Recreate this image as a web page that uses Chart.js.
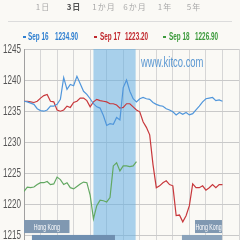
<!DOCTYPE html>
<html><head><meta charset="utf-8">
<script src="https://cdn.jsdelivr.net/npm/chart.js@4"></script>
<style>
html,body{margin:0;padding:0;background:#faf9f5;width:240px;height:240px;overflow:hidden;}
#wrap{position:relative;width:240px;height:240px;overflow:hidden;}
canvas{position:absolute;left:0;top:0;}
.tab{position:absolute;top:3px;font:8px/8px "Noto Sans CJK JP";letter-spacing:1px;color:#a9a9a9;transform:translateX(-50%);white-space:nowrap;}
.tab.on{color:#555;font-weight:bold;}
.sep{position:absolute;left:8px;top:21px;width:224px;height:1px;background:#dcdcdc;}
.dash{position:absolute;top:36px;width:3px;height:2px;}
.lt{position:absolute;top:30.5px;font:bold 11px/11px "Liberation Sans",Arial,sans-serif;transform:scaleX(0.58);transform-origin:0 0;white-space:nowrap;}
.wm{position:absolute;left:141px;top:54px;font:15px/15px "Liberation Sans",Arial,sans-serif;color:#5b98d2;transform:scaleX(0.63);transform-origin:0 0;white-space:nowrap;}
</style></head>
<body>
<div id="wrap">
<canvas id="c" width="240" height="250"></canvas>
<div id="tabs"></div>
<div class="sep"></div>
<div id="legend"></div>
<div class="wm">www.kitco.com</div>
</div>
<script>
// ---- data ----
const tabLabels = ['1日','3日','1か月','6か月','1年','5年'];
const activeTab = '3日';
const seriesNames = ['Sep 16','Sep 17','Sep 18'];
const lastPrices = ['1234.90','1223.20','1226.90'];
const xStep = 0.2;
const blueVals = [
1236.6,1236.5,1236.3,1236.1,1235.4,1235.1,1235.0,1235.2,1235.8,1235.8,
1236.1,1236.9,1240.4,1238.5,1239.3,1239.1,1240.6,1239.4,1238.2,1237.7,
1237.0,1236.2,1235.7,1235.5,1234.3,1232.7,1233.0,1232.9,1234.0,1233.6,
1238.8,1240.0,1238.2,1237.0,1236.5,1237.0,1237.2,1237.0,1236.9,1236.4,
1236.1,1235.9,1235.8,1235.4,1235.2,1234.9,1234.4,1234.8,1234.5,1234.8,
1234.4,1234.6,1235.2,1235.8,1236.5,1237.0,1237.1,1237.2,1236.7,1236.8,1236.6];
const redVals = [
1236.6,1236.6,1236.5,1236.4,1236.6,1237.1,1237.5,1237.7,1236.6,1236.5,
1235.2,1235.0,1235.2,1235.8,1235.6,1236.4,1236.6,1237.1,1237.1,1236.7,
1235.7,1236.5,1236.9,1236.7,1236.6,1236.5,1236.2,1236.2,1236.0,1235.5,
1235.6,1236.2,1236.2,1235.7,1235.2,1234.9,1233.3,1232.4,1231.2,1226.4,
1222.7,1223.0,1223.5,1223.8,1223.2,1223.0,1218.2,1218.3,1217.2,1218.2,
1219.8,1223.3,1222.7,1222.7,1223.0,1222.3,1222.7,1223.2,1222.7,1223.2,1223.2];
const greenVals = [
1222.1,1222.8,1222.7,1222.8,1223.2,1223.5,1223.5,1223.7,1223.2,1223.3,
1224.4,1224.0,1223.2,1223.5,1222.7,1222.5,1222.9,1223.3,1223.6,1223.5,
1221.5,1217.7,1219.8,1220.7,1220.6,1220.4,1221.1,1226.2,1226.7,1225.4,
1226.2,1226.2,1226.1,1226.2,1226.9];
const yTicks = [1215,1220,1225,1230,1235,1240,1245];
const shadedRange = [4.2, 6.75];
const sessionLabels = ['Hong Kong','Hong Kong'];
const sessionStarts = [0, 10.34];
const sessionEnds = [2.75, 11.97];
const session2Starts = [0.48, 9.55];
const session2Ends = [5.5, 11.97];

const colors = ['#5096db','#c8383c','#62a862'];
const textColors = ['#2f7fd0','#c0282d','#3c9a3c'];
const FONT = '"Liberation Sans", Arial, sans-serif';

// ---- header html ----
const tabX = [43,74,104,135,165,194];
const tabsEl = document.getElementById('tabs');
tabLabels.forEach((t,i)=>{
  const d=document.createElement('div');
  d.className='tab'+(t===activeTab?' on':'');
  d.style.left=tabX[i]+'px'; d.textContent=t; tabsEl.appendChild(d);
});
const legEl = document.getElementById('legend');
const legPos = [[23,28,55],[94,100,125],[163,169,195]];
seriesNames.forEach((n,i)=>{
  const dash=document.createElement('div'); dash.className='dash';
  dash.style.left=legPos[i][0]+'px'; dash.style.background=textColors[i]; legEl.appendChild(dash);
  const a=document.createElement('div'); a.className='lt'; a.style.left=legPos[i][1]+'px';
  a.style.color=textColors[i]; a.textContent=n; legEl.appendChild(a);
  const b=document.createElement('div'); b.className='lt'; b.style.left=legPos[i][2]+'px';
  b.style.color=textColors[i]; b.textContent=lastPrices[i]; legEl.appendChild(b);
});

const toPts = arr => arr.map((v,i)=>({x:+(i*xStep).toFixed(2), y:v}));

const shadePlugin = {
  id:'shade',
  beforeDatasetsDraw(chart){
    const {ctx, chartArea:a, scales:{x}} = chart;
    const p0=x.getPixelForValue(shadedRange[0]), p1=x.getPixelForValue(shadedRange[1]);
    ctx.save(); ctx.fillStyle='rgba(100,175,225,0.55)';
    ctx.fillRect(p0,a.top,p1-p0,a.bottom-a.top); ctx.restore();
  }
};
const overlayPlugin = {
  id:'overlay',
  afterDatasetsDraw(chart){
    const {ctx, scales:{x,y}} = chart;
    ctx.save();
    const c2=['#6f8fb0','#8aa2ba'];
    session2Starts.forEach((s,i)=>{
      const p0=x.getPixelForValue(s), p1=x.getPixelForValue(session2Ends[i]);
      const t=y.getPixelForValue(1215.1), b=y.getPixelForValue(1213);
      ctx.fillStyle=c2[i]; ctx.fillRect(p0,t,p1-p0,b-t);
    });
    sessionStarts.forEach((s,i)=>{
      const p0=x.getPixelForValue(s), p1=x.getPixelForValue(sessionEnds[i]);
      const t=y.getPixelForValue(1217.5), b=y.getPixelForValue(1215.4);
      ctx.fillStyle='#8098b1'; ctx.fillRect(p0,t,p1-p0,b-t);
      ctx.save();
      ctx.translate((p0+p1)/2,(t+b)/2+0.5);
      ctx.scale(0.55,1);
      ctx.fillStyle='#ffffff'; ctx.font='9.5px '+FONT;
      ctx.textAlign='center'; ctx.textBaseline='middle';
      ctx.fillText(sessionLabels[i],0,0);
      ctx.restore();
    });
    ctx.restore();
  },
  afterDraw(chart){
    const {ctx, scales:{y}} = chart;
    ctx.save();
    ctx.font='13.5px '+FONT; ctx.fillStyle='#555';
    ctx.textAlign='right'; ctx.textBaseline='middle';
    yTicks.forEach(v=>{
      const py=y.getPixelForValue(v);
      ctx.save(); ctx.translate(21,py); ctx.scale(0.6,1); ctx.fillText(String(v),0,0); ctx.restore();
    });
    ctx.restore();
  }
};

new Chart(document.getElementById('c'), {
  type:'line',
  data:{datasets:[
    {label:seriesNames[0], data:toPts(blueVals), borderColor:colors[0]},
    {label:seriesNames[1], data:toPts(redVals), borderColor:colors[1]},
    {label:seriesNames[2], data:toPts(greenVals), borderColor:colors[2]}
  ].map(d=>Object.assign(d,{borderWidth:1.2,pointRadius:0,tension:0,fill:false}))},
  options:{
    responsive:false, animation:false,
    layout:{padding:{top:49,right:1,bottom:2,left:0}},
    plugins:{legend:{display:false}, tooltip:{enabled:false}},
    scales:{
      x:{type:'linear',min:0,max:13,
        ticks:{display:false,stepSize:1},
        grid:{color:'#d6d6d6',drawTicks:false},
        border:{display:false},
        afterFit:s=>{s.height=0;}},
      y:{min:1213,max:1245,
        afterBuildTicks:s=>{s.ticks=yTicks.map(v=>({value:v}));},
        ticks:{display:false},
        grid:{color:'#c9c9c9',drawTicks:false},
        border:{color:'#a0a0a0'},
        afterFit:s=>{s.width=24;}}
    }
  },
  plugins:[shadePlugin, overlayPlugin]
});
</script>
</body></html>
